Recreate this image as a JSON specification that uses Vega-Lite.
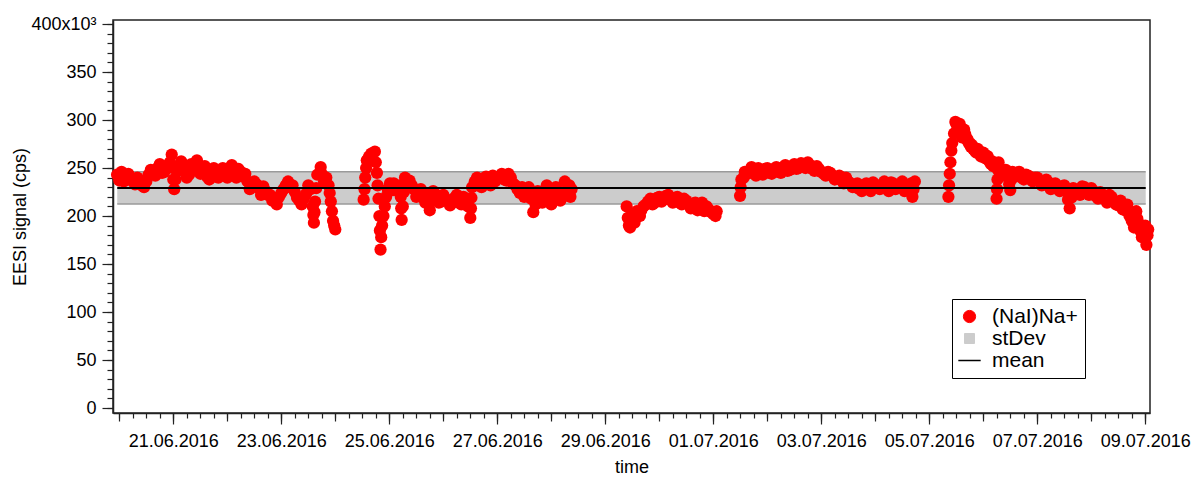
{
"$schema": "https://vega.github.io/schema/vega-lite/v6.json",
"width": 1037,
"height": 393,
"autosize": {"type": "none"},
"padding": {"left": 113, "top": 20, "right": 44, "bottom": 64},
"background": "white",
"datasets": {
"stats": [{"start": "2016-06-19T23:05", "end": "2016-07-09T00:12", "mean": 229.2, "lo": 212.5, "hi": 246}],
"signal": [
{"time":"2016-06-19T23:00","signal":243},{"time":"2016-06-20T00:00","signal":237},{"time":"2016-06-20T01:00","signal":246},{"time":"2016-06-20T03:00","signal":238},{"time":"2016-06-20T05:00","signal":240},{"time":"2016-06-20T07:00","signal":233},{"time":"2016-06-20T09:00","signal":236},{"time":"2016-06-20T11:00","signal":230},{"time":"2016-06-20T12:00","signal":236},{"time":"2016-06-20T13:00","signal":243},{"time":"2016-06-20T15:00","signal":246},{"time":"2016-06-20T17:00","signal":250},{"time":"2016-06-20T19:00","signal":245},{"time":"2016-06-20T21:00","signal":252},{"time":"2016-06-20T22:30","signal":256},{"time":"2016-06-20T23:18","signal":264},{"time":"2016-06-20T23:40","signal":250},{"time":"2016-06-21T00:00","signal":238},{"time":"2016-06-21T00:24","signal":228},{"time":"2016-06-21T01:00","signal":238},{"time":"2016-06-21T02:00","signal":247},{"time":"2016-06-21T03:30","signal":257},{"time":"2016-06-21T05:00","signal":248},{"time":"2016-06-21T07:00","signal":243},{"time":"2016-06-21T09:00","signal":250},{"time":"2016-06-21T10:30","signal":258},{"time":"2016-06-21T11:30","signal":252},{"time":"2016-06-21T13:00","signal":247},{"time":"2016-06-21T15:00","signal":241},{"time":"2016-06-21T17:00","signal":246},{"time":"2016-06-21T19:00","signal":241},{"time":"2016-06-21T21:00","signal":247},{"time":"2016-06-21T23:00","signal":243},{"time":"2016-06-22T01:00","signal":250},{"time":"2016-06-22T03:00","signal":245},{"time":"2016-06-22T05:00","signal":249},{"time":"2016-06-22T07:00","signal":241},{"time":"2016-06-22T09:00","signal":236},{"time":"2016-06-22T10:00","signal":228},{"time":"2016-06-22T12:00","signal":236},{"time":"2016-06-22T14:00","signal":229},{"time":"2016-06-22T15:00","signal":222},{"time":"2016-06-22T16:00","signal":231},{"time":"2016-06-22T18:00","signal":222},{"time":"2016-06-22T20:00","signal":216},{"time":"2016-06-22T22:00","signal":212},{"time":"2016-06-22T23:00","signal":220},{"time":"2016-06-23T01:00","signal":228},{"time":"2016-06-23T03:00","signal":236},{"time":"2016-06-23T05:00","signal":232},{"time":"2016-06-23T06:00","signal":225},{"time":"2016-06-23T07:00","signal":219},{"time":"2016-06-23T09:00","signal":212},{"time":"2016-06-23T11:00","signal":223},{"time":"2016-06-23T13:00","signal":228},{"time":"2016-06-23T14:00","signal":210},{"time":"2016-06-23T14:15","signal":201},{"time":"2016-06-23T14:30","signal":193},{"time":"2016-06-23T14:45","signal":204},{"time":"2016-06-23T15:00","signal":215},{"time":"2016-06-23T15:30","signal":229},{"time":"2016-06-23T16:00","signal":243},{"time":"2016-06-23T17:30","signal":251},{"time":"2016-06-23T19:00","signal":236},{"time":"2016-06-23T20:00","signal":240},{"time":"2016-06-23T21:00","signal":232},{"time":"2016-06-23T21:30","signal":224},{"time":"2016-06-23T22:00","signal":215},{"time":"2016-06-23T22:30","signal":205},{"time":"2016-06-23T23:00","signal":195},{"time":"2016-06-23T23:30","signal":190},{"time":"2016-06-24T00:00","signal":186},
{"time":"2016-06-20T02:00","signal":236},{"time":"2016-06-20T04:00","signal":244},{"time":"2016-06-20T06:00","signal":236},{"time":"2016-06-20T08:00","signal":240},{"time":"2016-06-20T10:00","signal":232},{"time":"2016-06-20T14:00","signal":248},{"time":"2016-06-20T16:00","signal":242},{"time":"2016-06-20T18:00","signal":254},{"time":"2016-06-20T20:00","signal":246},{"time":"2016-06-21T04:00","signal":250},{"time":"2016-06-21T06:00","signal":240},{"time":"2016-06-21T08:00","signal":254},{"time":"2016-06-21T12:00","signal":244},{"time":"2016-06-21T14:00","signal":252},{"time":"2016-06-21T16:00","signal":238},{"time":"2016-06-21T18:00","signal":250},{"time":"2016-06-21T20:00","signal":240},{"time":"2016-06-21T22:00","signal":250},{"time":"2016-06-22T00:00","signal":240},{"time":"2016-06-22T02:00","signal":253},{"time":"2016-06-22T04:00","signal":240},{"time":"2016-06-22T06:00","signal":246},{"time":"2016-06-22T08:00","signal":244},{"time":"2016-06-22T11:00","signal":232},{"time":"2016-06-22T13:00","signal":233},{"time":"2016-06-22T17:00","signal":226},{"time":"2016-06-22T19:00","signal":222},{"time":"2016-06-22T21:00","signal":218},{"time":"2016-06-23T00:00","signal":224},{"time":"2016-06-23T02:00","signal":232},{"time":"2016-06-23T04:00","signal":230},{"time":"2016-06-23T08:00","signal":216},{"time":"2016-06-23T10:00","signal":218},{"time":"2016-06-23T12:00","signal":232},{"time":"2016-06-23T18:00","signal":244},
{"time":"2016-06-24T12:36","signal":217},{"time":"2016-06-24T13:00","signal":228},{"time":"2016-06-24T13:18","signal":240},{"time":"2016-06-24T13:42","signal":250},{"time":"2016-06-24T14:00","signal":258},{"time":"2016-06-24T15:00","signal":262},{"time":"2016-06-24T16:00","signal":265},{"time":"2016-06-24T17:36","signal":267},{"time":"2016-06-24T18:00","signal":256},{"time":"2016-06-24T18:30","signal":245},{"time":"2016-06-24T18:48","signal":232},{"time":"2016-06-24T19:12","signal":218},{"time":"2016-06-24T19:36","signal":200},{"time":"2016-06-24T19:50","signal":185},{"time":"2016-06-24T20:06","signal":165},{"time":"2016-06-24T20:24","signal":178},{"time":"2016-06-24T20:48","signal":190},{"time":"2016-06-24T21:24","signal":200},{"time":"2016-06-24T22:00","signal":210},{"time":"2016-06-24T22:36","signal":220},{"time":"2016-06-24T23:18","signal":228},{"time":"2016-06-25T00:18","signal":234},{"time":"2016-06-25T01:42","signal":227},{"time":"2016-06-25T03:00","signal":230},{"time":"2016-06-25T04:48","signal":232},{"time":"2016-06-25T05:06","signal":220},{"time":"2016-06-25T05:18","signal":208},{"time":"2016-06-25T05:30","signal":196},{"time":"2016-06-25T06:00","signal":210},{"time":"2016-06-25T06:30","signal":225},{"time":"2016-06-25T07:00","signal":240},{"time":"2016-06-25T09:00","signal":237},{"time":"2016-06-25T11:00","signal":228},{"time":"2016-06-25T13:00","signal":224},{"time":"2016-06-25T15:00","signal":219},{"time":"2016-06-25T17:00","signal":222},{"time":"2016-06-25T17:30","signal":214},{"time":"2016-06-25T18:00","signal":206},{"time":"2016-06-25T18:42","signal":216},{"time":"2016-06-25T19:30","signal":226},{"time":"2016-06-25T21:00","signal":222},{"time":"2016-06-25T23:00","signal":215},{"time":"2016-06-26T01:00","signal":218},{"time":"2016-06-26T03:00","signal":211},{"time":"2016-06-26T05:00","signal":219},{"time":"2016-06-26T07:00","signal":214},{"time":"2016-06-26T09:00","signal":220},{"time":"2016-06-26T11:00","signal":210},{"time":"2016-06-26T12:00","signal":198},{"time":"2016-06-26T12:18","signal":208},{"time":"2016-06-26T12:30","signal":219},{"time":"2016-06-26T12:48","signal":230},{"time":"2016-06-26T14:00","signal":236},{"time":"2016-06-26T16:00","signal":233},{"time":"2016-06-26T18:00","signal":238},{"time":"2016-06-26T20:00","signal":236},{"time":"2016-06-26T22:00","signal":242},{"time":"2016-06-27T00:00","signal":239},{"time":"2016-06-27T02:00","signal":244},{"time":"2016-06-27T04:00","signal":237},{"time":"2016-06-27T06:00","signal":240},{"time":"2016-06-27T08:00","signal":232},{"time":"2016-06-27T09:00","signal":228},{"time":"2016-06-27T10:00","signal":224},{"time":"2016-06-27T11:00","signal":230},{"time":"2016-06-27T12:00","signal":220},{"time":"2016-06-27T13:00","signal":226},{"time":"2016-06-27T14:00","signal":230},{"time":"2016-06-27T15:00","signal":218},{"time":"2016-06-27T16:00","signal":204},{"time":"2016-06-27T17:00","signal":212},{"time":"2016-06-27T18:00","signal":226},{"time":"2016-06-27T19:00","signal":220},{"time":"2016-06-27T20:00","signal":214},{"time":"2016-06-27T21:00","signal":226},{"time":"2016-06-27T22:00","signal":232},{"time":"2016-06-27T23:00","signal":222},{"time":"2016-06-28T00:00","signal":212},{"time":"2016-06-28T01:00","signal":220},{"time":"2016-06-28T02:00","signal":230},{"time":"2016-06-28T03:00","signal":226},{"time":"2016-06-28T04:00","signal":216},{"time":"2016-06-28T05:00","signal":224},{"time":"2016-06-28T06:00","signal":236},{"time":"2016-06-28T07:00","signal":226},{"time":"2016-06-28T08:00","signal":232},{"time":"2016-06-28T08:30","signal":220},{"time":"2016-06-28T09:00","signal":228},
{"time":"2016-06-25T02:00","signal":234},{"time":"2016-06-25T04:00","signal":226},{"time":"2016-06-25T08:00","signal":232},{"time":"2016-06-25T10:00","signal":232},{"time":"2016-06-25T12:00","signal":220},{"time":"2016-06-25T14:00","signal":228},{"time":"2016-06-25T16:00","signal":214},{"time":"2016-06-25T20:00","signal":218},{"time":"2016-06-25T22:00","signal":214},{"time":"2016-06-26T00:00","signal":222},{"time":"2016-06-26T02:00","signal":216},{"time":"2016-06-26T04:00","signal":214},{"time":"2016-06-26T06:00","signal":222},{"time":"2016-06-26T08:00","signal":212},{"time":"2016-06-26T10:00","signal":216},{"time":"2016-06-26T15:00","signal":240},{"time":"2016-06-26T17:00","signal":230},{"time":"2016-06-26T19:00","signal":241},{"time":"2016-06-26T21:00","signal":232},{"time":"2016-06-26T23:00","signal":236},{"time":"2016-06-27T01:00","signal":240},{"time":"2016-06-27T03:00","signal":238},{"time":"2016-06-27T05:00","signal":244},{"time":"2016-06-27T07:00","signal":234},
{"time":"2016-06-29T09:30","signal":210},{"time":"2016-06-29T10:00","signal":198},{"time":"2016-06-29T10:30","signal":190},{"time":"2016-06-29T11:00","signal":188},{"time":"2016-06-29T12:00","signal":200},{"time":"2016-06-29T13:00","signal":193},{"time":"2016-06-29T14:00","signal":205},{"time":"2016-06-29T15:24","signal":200},{"time":"2016-06-29T17:00","signal":210},{"time":"2016-06-29T19:00","signal":215},{"time":"2016-06-29T21:00","signal":212},{"time":"2016-06-29T23:00","signal":219},{"time":"2016-06-30T01:00","signal":215},{"time":"2016-06-30T03:00","signal":221},{"time":"2016-06-30T05:00","signal":217},{"time":"2016-06-30T07:00","signal":219},{"time":"2016-06-30T09:00","signal":214},{"time":"2016-06-30T11:00","signal":218},{"time":"2016-06-30T13:00","signal":212},{"time":"2016-06-30T15:00","signal":213},{"time":"2016-06-30T17:00","signal":206},{"time":"2016-06-30T19:00","signal":214},{"time":"2016-06-30T20:00","signal":205},{"time":"2016-06-30T22:00","signal":207},{"time":"2016-07-01T00:00","signal":202},{"time":"2016-07-01T01:30","signal":205},
{"time":"2016-06-29T16:00","signal":206},{"time":"2016-06-29T18:00","signal":212},{"time":"2016-06-29T20:00","signal":218},{"time":"2016-06-29T22:00","signal":214},{"time":"2016-06-30T00:00","signal":220},{"time":"2016-06-30T02:00","signal":217},{"time":"2016-06-30T04:00","signal":222},{"time":"2016-06-30T06:00","signal":214},{"time":"2016-06-30T08:00","signal":220},{"time":"2016-06-30T10:00","signal":212},{"time":"2016-06-30T12:00","signal":216},{"time":"2016-06-30T14:00","signal":208},{"time":"2016-06-30T16:00","signal":214},{"time":"2016-06-30T18:00","signal":208},{"time":"2016-06-30T21:00","signal":210},{"time":"2016-06-30T23:00","signal":204},{"time":"2016-07-01T01:00","signal":200},
{"time":"2016-07-01T11:54","signal":221},{"time":"2016-07-01T12:10","signal":230},{"time":"2016-07-01T12:30","signal":238},{"time":"2016-07-01T13:30","signal":240},{"time":"2016-07-01T15:00","signal":244},{"time":"2016-07-01T17:00","signal":251},{"time":"2016-07-01T19:00","signal":242},{"time":"2016-07-01T21:00","signal":246},{"time":"2016-07-01T23:00","signal":249},{"time":"2016-07-02T01:00","signal":245},{"time":"2016-07-02T03:00","signal":249},{"time":"2016-07-02T05:00","signal":246},{"time":"2016-07-02T07:00","signal":251},{"time":"2016-07-02T09:00","signal":247},{"time":"2016-07-02T11:00","signal":252},{"time":"2016-07-02T13:00","signal":249},{"time":"2016-07-02T15:00","signal":255},{"time":"2016-07-02T17:00","signal":250},{"time":"2016-07-02T19:00","signal":253},{"time":"2016-07-02T21:00","signal":247},{"time":"2016-07-02T23:00","signal":249},{"time":"2016-07-03T01:00","signal":244},{"time":"2016-07-03T03:00","signal":246},{"time":"2016-07-03T05:00","signal":242},{"time":"2016-07-03T07:00","signal":240},{"time":"2016-07-03T09:00","signal":237},{"time":"2016-07-03T11:00","signal":240},{"time":"2016-07-03T13:00","signal":234},{"time":"2016-07-03T15:00","signal":230},{"time":"2016-07-03T17:00","signal":228},{"time":"2016-07-03T19:00","signal":232},{"time":"2016-07-03T21:00","signal":229},{"time":"2016-07-03T23:00","signal":235},{"time":"2016-07-04T01:00","signal":230},{"time":"2016-07-04T03:00","signal":233},{"time":"2016-07-04T05:00","signal":228},{"time":"2016-07-04T07:00","signal":235},{"time":"2016-07-04T09:00","signal":228},{"time":"2016-07-04T11:00","signal":233},{"time":"2016-07-04T13:00","signal":226},{"time":"2016-07-04T15:00","signal":232},{"time":"2016-07-04T16:30","signal":220},{"time":"2016-07-04T17:00","signal":228},{"time":"2016-07-04T17:36","signal":236},
{"time":"2016-07-01T14:00","signal":246},{"time":"2016-07-01T16:00","signal":245},{"time":"2016-07-01T18:00","signal":247},{"time":"2016-07-01T20:00","signal":250},{"time":"2016-07-01T22:00","signal":243},{"time":"2016-07-02T00:00","signal":250},{"time":"2016-07-02T02:00","signal":244},{"time":"2016-07-02T04:00","signal":251},{"time":"2016-07-02T06:00","signal":245},{"time":"2016-07-02T08:00","signal":253},{"time":"2016-07-02T10:00","signal":248},{"time":"2016-07-02T12:00","signal":254},{"time":"2016-07-02T14:00","signal":250},{"time":"2016-07-02T16:00","signal":251},{"time":"2016-07-02T18:00","signal":256},{"time":"2016-07-02T20:00","signal":249},{"time":"2016-07-02T22:00","signal":252},{"time":"2016-07-03T00:00","signal":246},{"time":"2016-07-03T02:00","signal":242},{"time":"2016-07-03T04:00","signal":245},{"time":"2016-07-03T06:00","signal":238},{"time":"2016-07-03T08:00","signal":242},{"time":"2016-07-03T10:00","signal":234},{"time":"2016-07-03T12:00","signal":236},{"time":"2016-07-03T14:00","signal":230},{"time":"2016-07-03T16:00","signal":234},{"time":"2016-07-03T18:00","signal":226},{"time":"2016-07-03T20:00","signal":234},{"time":"2016-07-03T22:00","signal":226},{"time":"2016-07-04T00:00","signal":232},{"time":"2016-07-04T02:00","signal":228},{"time":"2016-07-04T04:00","signal":236},{"time":"2016-07-04T06:00","signal":226},{"time":"2016-07-04T08:00","signal":234},{"time":"2016-07-04T10:00","signal":230},{"time":"2016-07-04T12:00","signal":236},{"time":"2016-07-04T14:00","signal":228},{"time":"2016-07-04T16:00","signal":234},
{"time":"2016-07-05T08:30","signal":220},{"time":"2016-07-05T08:48","signal":232},{"time":"2016-07-05T09:06","signal":244},{"time":"2016-07-05T09:24","signal":256},{"time":"2016-07-05T09:48","signal":268},{"time":"2016-07-05T10:12","signal":276},{"time":"2016-07-05T11:00","signal":286},{"time":"2016-07-05T11:36","signal":298},{"time":"2016-07-05T12:30","signal":290},{"time":"2016-07-05T13:30","signal":296},{"time":"2016-07-05T14:30","signal":282},{"time":"2016-07-05T15:30","signal":290},{"time":"2016-07-05T16:30","signal":280},{"time":"2016-07-05T17:30","signal":276},{"time":"2016-07-05T18:30","signal":272},{"time":"2016-07-05T19:30","signal":270},{"time":"2016-07-05T20:30","signal":267},{"time":"2016-07-05T21:30","signal":270},{"time":"2016-07-05T22:30","signal":265},{"time":"2016-07-05T23:30","signal":265},{"time":"2016-07-06T00:30","signal":262},{"time":"2016-07-06T01:30","signal":263},{"time":"2016-07-06T02:30","signal":258},{"time":"2016-07-06T03:30","signal":254},{"time":"2016-07-06T04:24","signal":252},
{"time":"2016-07-05T12:00","signal":296},{"time":"2016-07-05T13:00","signal":290},{"time":"2016-07-05T14:00","signal":292},{"time":"2016-07-05T15:00","signal":286},{"time":"2016-07-05T16:00","signal":285},{"time":"2016-07-05T17:00","signal":280},{"time":"2016-07-05T18:00","signal":276},{"time":"2016-07-05T19:00","signal":274},{"time":"2016-07-05T20:00","signal":270},{"time":"2016-07-05T21:00","signal":266},{"time":"2016-07-05T22:00","signal":268},{"time":"2016-07-05T23:00","signal":262},{"time":"2016-07-06T00:00","signal":266},{"time":"2016-07-06T01:00","signal":260},{"time":"2016-07-06T02:00","signal":262},{"time":"2016-07-06T03:00","signal":256},{"time":"2016-07-06T04:00","signal":257},
{"time":"2016-07-06T05:54","signal":218},{"time":"2016-07-06T06:06","signal":228},{"time":"2016-07-06T06:18","signal":238},{"time":"2016-07-06T06:30","signal":248},{"time":"2016-07-06T06:48","signal":256},{"time":"2016-07-06T07:24","signal":250},{"time":"2016-07-06T09:00","signal":246},{"time":"2016-07-06T11:00","signal":240},{"time":"2016-07-06T11:30","signal":233},{"time":"2016-07-06T12:00","signal":227},{"time":"2016-07-06T12:30","signal":238},{"time":"2016-07-06T13:00","signal":246},{"time":"2016-07-06T15:00","signal":242},{"time":"2016-07-06T17:00","signal":240},{"time":"2016-07-06T19:00","signal":243},{"time":"2016-07-06T21:00","signal":238},{"time":"2016-07-06T23:00","signal":240},{"time":"2016-07-07T01:00","signal":236},{"time":"2016-07-07T03:00","signal":233},{"time":"2016-07-07T05:00","signal":235},{"time":"2016-07-07T07:00","signal":230},{"time":"2016-07-07T09:00","signal":228},{"time":"2016-07-07T11:00","signal":231},{"time":"2016-07-07T13:00","signal":226},{"time":"2016-07-07T13:40","signal":217},{"time":"2016-07-07T14:24","signal":208},{"time":"2016-07-07T15:10","signal":219},{"time":"2016-07-07T16:00","signal":229},{"time":"2016-07-07T18:00","signal":224},{"time":"2016-07-07T20:00","signal":231},{"time":"2016-07-07T22:00","signal":226},{"time":"2016-07-08T00:00","signal":229},{"time":"2016-07-08T02:00","signal":221},{"time":"2016-07-08T04:00","signal":225},{"time":"2016-07-08T06:00","signal":218},{"time":"2016-07-08T08:00","signal":222},{"time":"2016-07-08T10:00","signal":215},{"time":"2016-07-08T12:00","signal":211},{"time":"2016-07-08T14:00","signal":207},{"time":"2016-07-08T16:00","signal":212},{"time":"2016-07-08T17:00","signal":200},{"time":"2016-07-08T18:00","signal":195},{"time":"2016-07-08T19:00","signal":188},{"time":"2016-07-08T19:30","signal":196},{"time":"2016-07-08T20:00","signal":205},{"time":"2016-07-08T20:30","signal":197},{"time":"2016-07-08T21:00","signal":192},{"time":"2016-07-08T22:00","signal":184},{"time":"2016-07-08T22:30","signal":178},{"time":"2016-07-08T23:00","signal":186},{"time":"2016-07-08T23:30","signal":180},{"time":"2016-07-09T00:00","signal":190},{"time":"2016-07-09T00:30","signal":170},{"time":"2016-07-09T01:00","signal":180},{"time":"2016-07-09T01:18","signal":186},
{"time":"2016-07-06T08:00","signal":244},{"time":"2016-07-06T10:00","signal":248},{"time":"2016-07-06T14:00","signal":242},{"time":"2016-07-06T16:00","signal":246},{"time":"2016-07-06T18:00","signal":238},{"time":"2016-07-06T20:00","signal":242},{"time":"2016-07-06T22:00","signal":236},{"time":"2016-07-07T00:00","signal":240},{"time":"2016-07-07T02:00","signal":232},{"time":"2016-07-07T04:00","signal":238},{"time":"2016-07-07T06:00","signal":228},{"time":"2016-07-07T08:00","signal":234},{"time":"2016-07-07T10:00","signal":226},{"time":"2016-07-07T12:00","signal":232},{"time":"2016-07-07T17:00","signal":226},{"time":"2016-07-07T19:00","signal":222},{"time":"2016-07-07T21:00","signal":230},{"time":"2016-07-07T23:00","signal":222},{"time":"2016-07-08T01:00","signal":226},{"time":"2016-07-08T03:00","signal":218},{"time":"2016-07-08T05:00","signal":222},{"time":"2016-07-08T07:00","signal":214},{"time":"2016-07-08T09:00","signal":220},{"time":"2016-07-08T11:00","signal":212},{"time":"2016-07-08T13:00","signal":216},{"time":"2016-07-08T15:00","signal":206}
]
},
"layer": [
{
"data": {"name": "stats"},
"mark": {"type": "rect"},
"encoding": {
"x": {"field": "start", "type": "temporal",
"scale": {"domain": [{"year": 2016, "month": 6, "date": 19, "hours": 21, "minutes": 12}, {"year": 2016, "month": 7, "date": 9, "hours": 2, "minutes": 6}]},
"axis": {"orient": "bottom", "tickCount": 77, "labels": false, "domain": false, "grid": false, "tickSize": 5, "title": null}},
"x2": {"field": "end"},
"y": {"field": "lo", "type": "quantitative",
"scale": {"domain": [-5.2, 404.2], "nice": false, "zero": false},
"axis": {"orient": "left", "values": [0,10,20,30,40,50,60,70,80,90,100,110,120,130,140,150,160,170,180,190,200,210,220,230,240,250,260,270,280,290,300,310,320,330,340,350,360,370,380,390,400], "labels": false, "domain": false, "grid": false, "tickSize": 6, "title": null}},
"y2": {"field": "hi"},
"color": {"datum": "stDev",
"scale": {"domain": ["(NaI)Na+", "stDev", "mean"], "range": ["#ff0000", "#cccccc", "#000000"]},
"legend": {
"orient": "none", "legendX": 839, "legendY": 279, "title": null,
"labelFont": "Liberation Sans", "labelFontSize": 21, "labelColor": "#000000",
"padding": 7, "strokeColor": "#000000", "fillColor": "#ffffff",
"symbolSize": 500, "symbolOpacity": 1, "rowPadding": 0, "labelOffset": 12,
"encode": {"symbols": {"update": {
"shape": {"signal": "datum.value === 'mean' ? 'stroke' : datum.value === 'stDev' ? 'square' : 'circle'"},
"size": {"signal": "datum.value === 'mean' ? 500 : datum.value === 'stDev' ? 100 : 150"},
"fill": {"signal": "datum.value === 'mean' ? 'transparent' : datum.value === 'stDev' ? '#cccccc' : '#ff0000'"},
"stroke": {"signal": "datum.value === 'mean' ? '#000000' : datum.value === 'stDev' ? '#888888' : '#ff0000'"},
"strokeWidth": {"signal": "datum.value === 'mean' ? 1.5 : 1"}
}}}
}
}
}
},
{
"data": {"name": "stats"},
"mark": {"type": "rule", "color": "#9a9a9a", "strokeWidth": 1.5},
"encoding": {
"x": {"field": "start", "type": "temporal", "axis": null},
"x2": {"field": "end"},
"y": {"field": "lo", "type": "quantitative", "axis": null}
}
},
{
"data": {"name": "stats"},
"mark": {"type": "rule", "color": "#9a9a9a", "strokeWidth": 1.5},
"encoding": {
"x": {"field": "start", "type": "temporal", "axis": null},
"x2": {"field": "end"},
"y": {"field": "hi", "type": "quantitative", "axis": null}
}
},
{
"data": {"name": "signal"},
"mark": {"type": "circle", "size": 150, "opacity": 1},
"encoding": {
"x": {"field": "time", "type": "temporal",
"axis": {"orient": "bottom", "title": "time",
"values": [{"year": 2016, "month": 6, "date": 21}, {"year": 2016, "month": 6, "date": 23}, {"year": 2016, "month": 6, "date": 25}, {"year": 2016, "month": 6, "date": 27}, {"year": 2016, "month": 6, "date": 29}, {"year": 2016, "month": 7, "date": 1}, {"year": 2016, "month": 7, "date": 3}, {"year": 2016, "month": 7, "date": 5}, {"year": 2016, "month": 7, "date": 7}, {"year": 2016, "month": 7, "date": 9}],
"format": "%d.%m.%Y", "formatType": "time", "tickSize": 11, "labelPadding": 8, "labelFontSize": 18,
"labelFlush": false, "labelOverlap": false, "labelBound": false,
"titleFontSize": 18, "titleY": 54, "titleBaseline": "middle", "grid": false}},
"y": {"field": "signal", "type": "quantitative",
"axis": {"orient": "left", "title": "EESI signal (cps)", "values": [0,50,100,150,200,250,300,350,400],
"labelExpr": "datum.value == 400 ? '400x10³' : datum.label",
"tickSize": 11, "labelPadding": 6, "labelFontSize": 18, "titleFontSize": 18,
"titleX": -93, "titleBaseline": "middle", "grid": false}},
"color": {"datum": "(NaI)Na+"}
}
},
{
"data": {"name": "stats"},
"mark": {"type": "rule", "strokeWidth": 2},
"encoding": {
"x": {"field": "start", "type": "temporal",
"axis": {"orient": "bottom", "tickCount": 19, "labels": false, "domain": false, "grid": false, "tickSize": 8, "title": null}},
"x2": {"field": "end"},
"y": {"field": "mean", "type": "quantitative", "axis": null},
"color": {"datum": "mean"}
}
}
],
"resolve": {"axis": {"x": "independent", "y": "independent"}},
"config": {
"font": "Liberation Sans",
"view": {"stroke": "#222222", "strokeWidth": 1.5},
"axis": {"labelFont": "Liberation Sans", "titleFont": "Liberation Sans", "labelColor": "#000000", "titleColor": "#000000", "tickColor": "#222222", "domainColor": "#222222", "domainWidth": 1.5, "tickWidth": 1.2, "titleFontWeight": "normal", "grid": false},
"legend": {"labelFont": "Liberation Sans"}
}
}
